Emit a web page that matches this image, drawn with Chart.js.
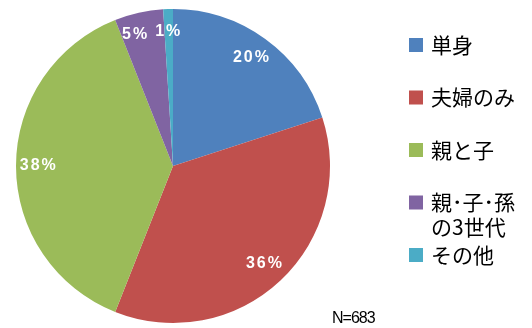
<!DOCTYPE html>
<html lang="ja">
<head>
<meta charset="utf-8">
<title>世帯構成</title>
<script src="https://cdn.jsdelivr.net/npm/chart.js@4/dist/chart.umd.min.js"></script>
<style>
    html, body { margin: 0; padding: 0; background: #fff; }
    #wrap { position: relative; width: 532px; height: 328px; }
</style>
</head>
<body>
<div id="wrap"><canvas id="pieChart" width="532" height="328"></canvas></div>
<script>
// Household composition data
const categories = ['単身', '夫婦のみ', '親と子', ['親･子･孫', 'の3世代'], 'その他'];
const shares = [20, 36, 38, 5, 1];
const sliceColors = ['#4F81BD', '#C0504D', '#9BBB59', '#8064A2', '#4BACC6'];
const sampleNote = 'N=683';

// Percentage labels drawn inside each slice
const sliceLabels = {
    id: 'sliceLabels',
    afterDatasetsDraw(chart) {
        const ctx = chart.ctx;
        const meta = chart.getDatasetMeta(0);
        ctx.save();
        ctx.fillStyle = '#fff';
        ctx.font = 'bold 16px "Liberation Sans", Arial, sans-serif';
        ctx.textAlign = 'center';
        ctx.textBaseline = 'middle';
        if ('letterSpacing' in ctx) ctx.letterSpacing = '2px';

        const boxes = meta.data.map((arc, i) => {
            const p = arc.getProps(['x', 'y', 'startAngle', 'endAngle', 'outerRadius'], true);
            const mid = (p.startAngle + p.endAngle) / 2;
            const r = p.outerRadius * 0.855;
            const text = shares[i] + '%';
            return {
                text,
                x: p.x + Math.cos(mid) * r,
                y: p.y + Math.sin(mid) * r,
                w: ctx.measureText(text).width
            };
        });

        // small neighbouring slices: push the earlier label left so they don't collide
        for (let i = boxes.length - 2; i >= 0; i--) {
            const a = boxes[i], b = boxes[i + 1];
            if (Math.abs(a.y - b.y) > 16) continue;
            const overlap = (a.x + a.w / 2) - (b.x - b.w / 2) + 6;
            if (a.x < b.x && overlap > 0) a.x -= overlap;
        }

        boxes.forEach(b => ctx.fillText(b.text, b.x, b.y));
        ctx.restore();
    }
};

// Legend on the right, one entry every 52.5px, wrapping labels drawn as extra lines
const sideLegend = {
    id: 'sideLegend',
    afterDraw(chart) {
        const ctx = chart.ctx;
        ctx.save();
        ctx.font = '21px "Noto Sans CJK JP", sans-serif';
        ctx.textBaseline = 'middle';
        ctx.textAlign = 'left';
        categories.forEach((label, i) => {
            const y = 45 + i * 52.5;
            ctx.fillStyle = sliceColors[i];
            ctx.fillRect(409, y - 7, 14, 14);
            ctx.fillStyle = '#000';
            const lines = Array.isArray(label) ? label : [label];
            lines.forEach((line, j) => ctx.fillText(line, 431, y + j * 25));
        });
        ctx.font = '16px "Liberation Sans", Arial, sans-serif';
        if ('letterSpacing' in ctx) ctx.letterSpacing = '-1px';
        ctx.fillText(sampleNote, 332, 319);
        ctx.restore();
    }
};

new Chart(document.getElementById('pieChart'), {
    type: 'pie',
    data: {
        labels: categories.map(c => Array.isArray(c) ? c.join('') : c),
        datasets: [{
            data: shares,
            backgroundColor: sliceColors,
            borderWidth: 0
        }]
    },
    options: {
        responsive: false,
        animation: false,
        layout: { padding: { left: 16, right: 202, top: 9, bottom: 5 } },
        plugins: {
            legend: { display: false },
            tooltip: { enabled: false }
        }
    },
    plugins: [sliceLabels, sideLegend]
});
</script>
</body>
</html>
